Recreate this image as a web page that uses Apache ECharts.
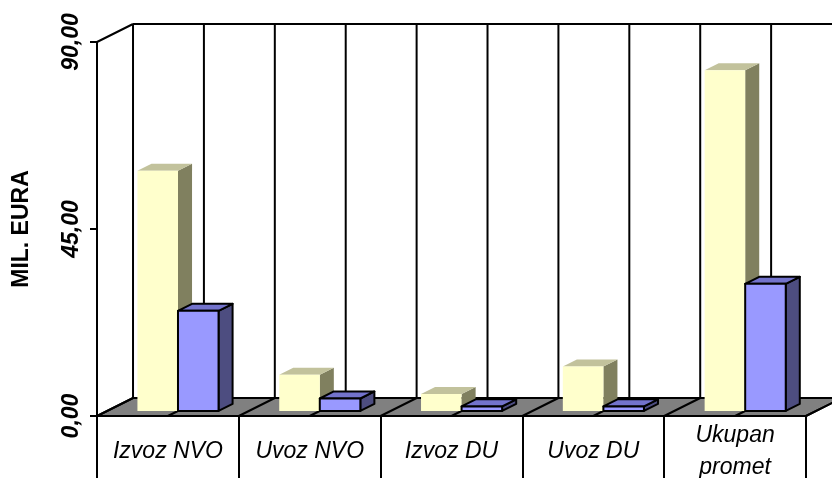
<!DOCTYPE html>
<html>
<head>
<meta charset="utf-8">
<script src="https://cdn.jsdelivr.net/npm/echarts@6/dist/echarts.min.js"></script>
<style>
  html, body { margin: 0; padding: 0; background: #fff; }
  #chart { width: 832px; height: 478px; }
</style>
</head>
<body>
<div id="chart"></div>
<script>
// kategorije i vrijednosti (mil. EURA)
var categories = ['Izvoz NVO', 'Uvoz NVO', 'Izvoz DU', 'Uvoz DU', 'Ukupan\npromet'];
var yellowValues = [57.8, 8.7, 4.1, 10.7, 82.0];
var blueValues = [24.1, 3.0, 1.1, 1.1, 30.6];
var yTicks = [0, 45, 90];

(function () {
    var myChart = echarts.init(document.getElementById('chart'));

    // dubina poda / zida (3D efekt)
    var DEPTH_Y = -18;
    function depthX(catW) { return catW * 0.254; }

    // okvir: pod, stražnji zid, linije mreže
    function renderFrame(params, api) {
        var catW = api.size([1, 0])[0];
        var o = api.coord([0, yTicks[0]]);
        var t = api.coord([0, yTicks[yTicks.length - 1]]);
        var left = o[0] - catW / 2;
        var base = o[1];
        var top = t[1];
        var dx = depthX(catW);
        var dy = DEPTH_Y;
        var n = categories.length;
        var children = [];
        var line = { stroke: '#000', lineWidth: 2 };

        children.push({
            type: 'polygon',
            shape: { points: [[left, base], [left + n * catW, base], [left + n * catW + dx, base + dy], [left + dx, base + dy]] },
            style: { fill: '#808080', stroke: '#000', lineWidth: 2 }
        });
        for (var k = 0; k <= n * 2; k++) {
            var x = left + k * catW / 2;
            children.push({ type: 'line', shape: { x1: x, y1: base, x2: x + dx, y2: base + dy }, style: line });
            children.push({ type: 'line', shape: { x1: x + dx, y1: top + dy, x2: x + dx, y2: base + dy }, style: line });
        }
        children.push({ type: 'line', shape: { x1: left + dx, y1: top + dy, x2: left + n * catW + dx + 10, y2: top + dy }, style: line });
        children.push({ type: 'line', shape: { x1: left, y1: top, x2: left + dx, y2: top + dy }, style: line });

        return { type: 'group', children: children };
    }

    // 3D stupac
    function makeBar(side, colors, outline) {
        return function (params, api) {
            var i = api.value(0);
            var v = api.value(1);
            var catW = api.size([1, 0])[0];
            var top = api.coord([i, v]);
            var bot = api.coord([i, 0]);
            var dxTot = depthX(catW);
            var fx = dxTot * 0.28, fy = DEPTH_Y * 0.28;
            var bx = dxTot * 0.39, by = DEPTH_Y * 0.39;
            var w = catW * 0.286;
            var x0 = side === 0 ? top[0] + fx - w : top[0] + fx;
            var x1 = x0 + w;
            var yt = top[1] + fy;
            var yb = bot[1] + fy;
            var st = outline ? { stroke: '#000', lineWidth: 2, lineJoin: 'round' } : { lineWidth: 0 };
            return {
                type: 'group',
                children: [
                    {
                        type: 'polygon',
                        shape: { points: [[x1, yt], [x1 + bx, yt + by], [x1 + bx, yb + by], [x1, yb]] },
                        style: Object.assign({ fill: colors.side }, st)
                    },
                    {
                        type: 'polygon',
                        shape: { points: [[x0, yt], [x0 + bx, yt + by], [x1 + bx, yt + by], [x1, yt]] },
                        style: Object.assign({ fill: colors.top }, st)
                    },
                    {
                        type: 'rect',
                        shape: { x: x0, y: yt, width: w, height: yb - yt },
                        style: Object.assign({ fill: colors.front }, st)
                    }
                ]
            };
        };
    }

    function toData(vals) {
        return vals.map(function (v, i) { return [i, v]; });
    }

    var font = "'Liberation Sans', Arial, sans-serif";

    var option = {
        animation: false,
        backgroundColor: '#fff',
        grid: { left: 97, right: 26, top: 42, bottom: 62, outerBoundsMode: 'none' },
        xAxis: {
            type: 'category',
            data: categories,
            boundaryGap: true,
            axisLine: { lineStyle: { color: '#000', width: 2 } },
            axisTick: { show: true, length: 62, lineStyle: { color: '#000', width: 2 } },
            axisLabel: {
                color: '#000',
                fontFamily: font,
                fontStyle: 'italic',
                fontSize: 23,
                lineHeight: 32,
                margin: 36,
                verticalAlign: 'middle',
                interval: 0
            },
            splitLine: { show: false }
        },
        yAxis: {
            type: 'value',
            min: 0,
            max: 90,
            interval: 45,
            name: 'MIL. EURA',
            nameLocation: 'middle',
            nameRotate: 90,
            nameGap: 64,
            nameTextStyle: { color: '#000', fontFamily: font, fontWeight: 'bold', fontSize: 23 },
            axisLine: { show: true, lineStyle: { color: '#000', width: 2 } },
            axisTick: { show: true, length: 7, lineStyle: { color: '#000', width: 2 } },
            axisLabel: {
                color: '#000',
                fontFamily: font,
                fontStyle: 'italic',
                fontWeight: 'bold',
                fontSize: 23,
                rotate: 90,
                margin: 14,
                formatter: function (v) { return v.toFixed(2).replace('.', ','); }
            },
            splitLine: { show: false }
        },
        series: [
            {
                type: 'custom',
                name: 'okvir',
                z: 1,
                silent: true,
                data: [[0, 0]],
                renderItem: renderFrame
            },
            {
                type: 'custom',
                name: 'Serija 1',
                z: 2,
                data: toData(yellowValues),
                encode: { x: 0, y: 1 },
                renderItem: makeBar(0, { front: '#ffffcc', top: '#c2c29c', side: '#80805f' }, false)
            },
            {
                type: 'custom',
                name: 'Serija 2',
                z: 3,
                data: toData(blueValues),
                encode: { x: 0, y: 1 },
                renderItem: makeBar(1, { front: '#9999ff', top: '#7373cc', side: '#4d4d80' }, true)
            }
        ]
    };

    myChart.setOption(option);

    window.addEventListener('resize', function () {
        myChart.resize();
    });
})();
</script>
</body>
</html>
